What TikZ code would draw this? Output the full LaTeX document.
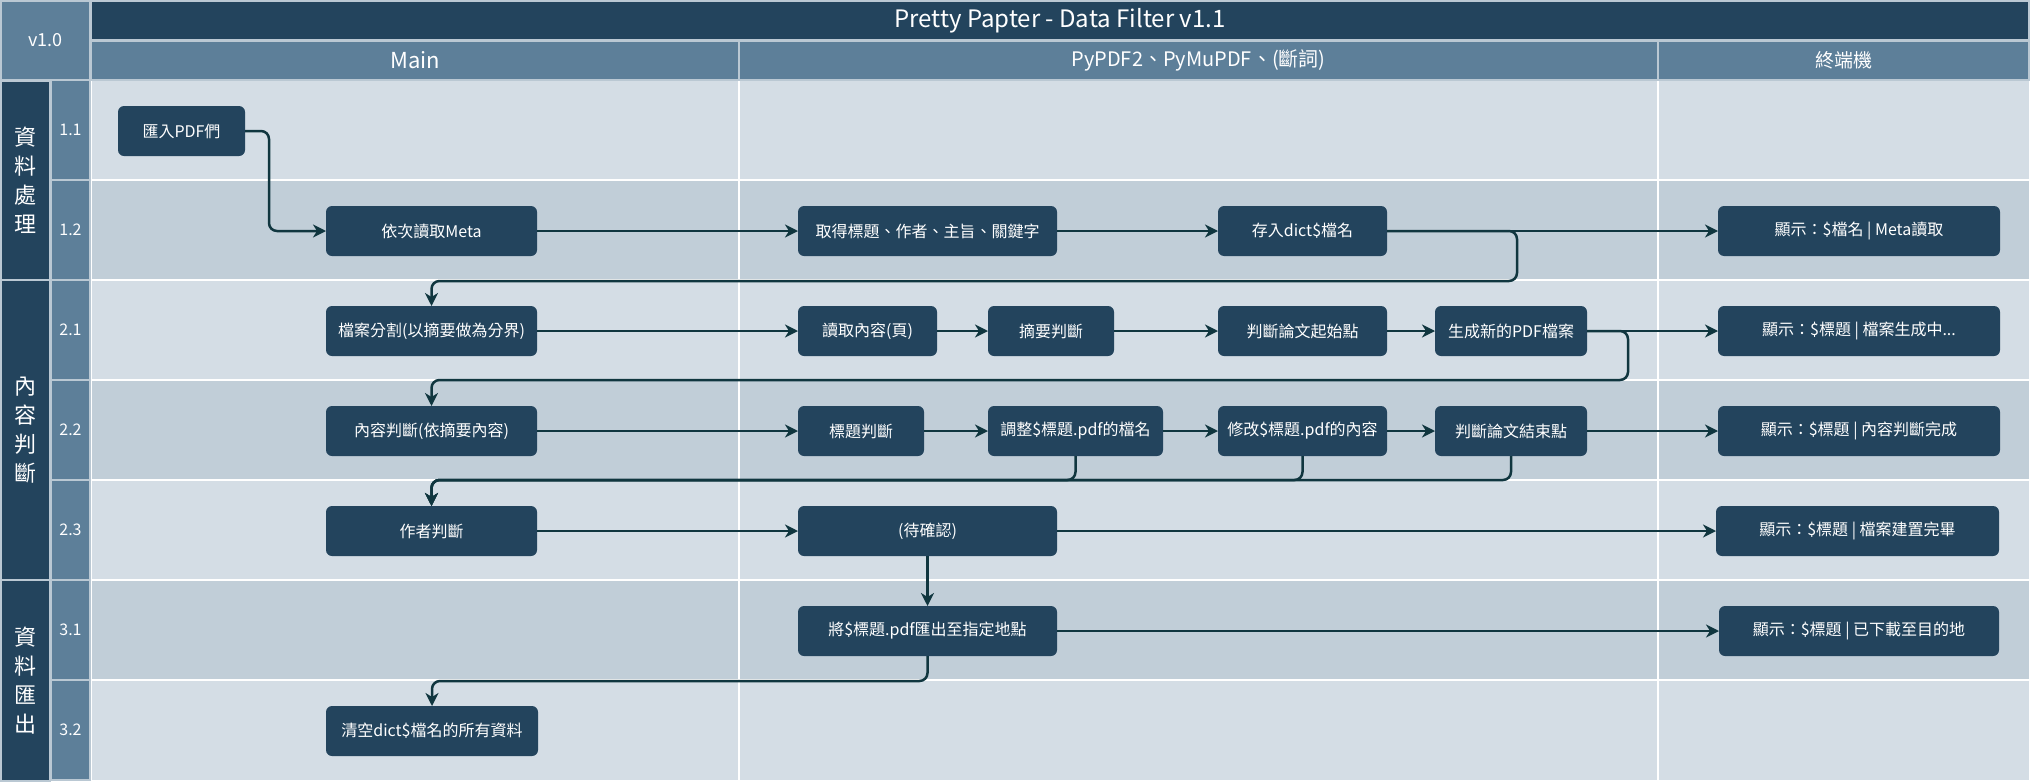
\documentclass[tikz,border=0pt]{standalone}
\usepackage{fontspec}
\setmainfont{Noto Sans CJK TC}
\usetikzlibrary{arrows.meta}
\definecolor{hdr}{HTML}{23445D}
\definecolor{subc}{HTML}{5D7F99}
\definecolor{rowA}{HTML}{D4DDE5}
\definecolor{rowB}{HTML}{C1CED8}
\definecolor{edgec}{HTML}{BAC8D3}
\definecolor{connc}{HTML}{10363F}
\tikzset{
  box/.style={rectangle, rounded corners=6pt, fill=hdr, draw=none, minimum height=50pt,
    inner sep=0pt, outer sep=0pt, text=white, font=\fontsize{16}{19}\selectfont},
  flow/.style={draw=connc, line width=2.5pt, rounded corners=8pt,
    -{Stealth[length=13pt,width=13pt,inset=4pt]}},
  cell/.style={draw=edgec, line width=2pt},
  hdrtext/.style={text=white, inner sep=0pt},
}
\begin{document}
\begin{tikzpicture}[x=1pt,y=-1pt]
\useasboundingbox (0,0) rectangle (2033,782);
\fill[white] (0,0) rectangle (2033,782);
% lanes
\foreach \k/\c in {0/rowA,1/rowB,2/rowA,3/rowB,4/rowA,5/rowB,6/rowA}{
  \fill[fill=\c] (91,{80+100*\k}) rectangle (2029,{180+100*\k});
}
\foreach \k in {1,...,6}{
  \draw[white,line width=2pt] (91,{80+100*\k}) -- (2029,{80+100*\k});
}
\draw[white,line width=2pt] (739,80) -- (739,781) (1658,80) -- (1658,781) (91,80) -- (91,781);
% header
\draw[cell, fill=subc] (1,1) rectangle (90,80);
\node[hdrtext, font=\fontsize{18}{20}\selectfont] (ver) at (45.5,40.5) {v1.0};
\draw[cell, fill=hdr] (91,1) rectangle (2029,40);
\node[hdrtext, font=\fontsize{24}{26}\selectfont] (title) at (1060,20.5) {Pretty Papter - Data Filter v1.1};
\draw[cell, fill=subc] (91,41) rectangle (739,80);
\draw[cell, fill=subc] (739,41) rectangle (1658,80);
\draw[cell, fill=subc] (1658,41) rectangle (2029,80);
\node[hdrtext, font=\fontsize{22}{24}\selectfont] (hmain) at (415,60.5) {Main};
\node[hdrtext, font=\fontsize{20}{22}\selectfont] (hpy) at (1198.5,60.5) {PyPDF2、PyMuPDF、(斷詞)};
\node[hdrtext, font=\fontsize{19}{21}\selectfont] (hterm) at (1843.5,60.5) {終端機};
% group column
\draw[cell, fill=hdr] (1,81) rectangle (50,280);
\draw[cell, fill=hdr] (1,280) rectangle (50,580);
\draw[cell, fill=hdr] (1,580) rectangle (50,781);
\node[hdrtext, align=center, font=\fontsize{22}{29}\selectfont] (g1) at (25.5,180.5) {資\\料\\處\\理};
\node[hdrtext, align=center, font=\fontsize{22}{29}\selectfont] (g2) at (25.5,430) {內\\容\\判\\斷};
\node[hdrtext, align=center, font=\fontsize{22}{29}\selectfont] (g3) at (25.5,680.5) {資\\料\\匯\\出};
% sub numbers
\foreach \k/\t in {0/1.1,1/1.2,2/2.1,3/2.2,4/2.3,5/3.1,6/3.2}{
  \draw[cell, fill=subc] (51,{80+100*\k}) rectangle (90,{180+100*\k});
  \node[hdrtext, font=\fontsize{16}{18}\selectfont] (s\k) at (70.5,{130+100*\k}) {\t};
}
% boxes
\node[box, minimum width=127pt] (n11) at (181.5,131) {匯入PDF們};
\node[box, minimum width=211pt] (n12) at (431.5,231) {依次讀取Meta};
\node[box, minimum width=259pt] (n13) at (927.5,231) {取得標題、作者、主旨、關鍵字};
\node[box, minimum width=169pt] (n14) at (1302.5,231) {存入dict\$檔名};
\node[box, minimum width=282pt] (n15) at (1859,231) {顯示：\$檔名 | Meta讀取};
\node[box, minimum width=211pt] (n21) at (431.5,331) {檔案分割(以摘要做為分界)};
\node[box, minimum width=139pt] (n22) at (867.5,331) {讀取內容(頁)};
\node[box, minimum width=126pt] (n23) at (1051,331) {摘要判斷};
\node[box, minimum width=169pt] (n24) at (1302.5,331) {判斷論文起始點};
\node[box, minimum width=152pt] (n25) at (1511,331) {生成新的PDF檔案};
\node[box, minimum width=282pt] (n26) at (1859,331) {顯示：\$標題 | 檔案生成中...};
\node[box, minimum width=211pt] (n31) at (431.5,431) {內容判斷(依摘要內容)};
\node[box, minimum width=126pt] (n32) at (861,431) {標題判斷};
\node[box, minimum width=175pt] (n33) at (1075.5,431) {調整\$標題.pdf的檔名};
\node[box, minimum width=169pt] (n34) at (1302.5,431) {修改\$標題.pdf的內容};
\node[box, minimum width=152pt] (n35) at (1511,431) {判斷論文結束點};
\node[box, minimum width=282pt] (n36) at (1859,431) {顯示：\$標題 | 內容判斷完成};
\node[box, minimum width=211pt] (n41) at (431.5,531) {作者判斷};
\node[box, minimum width=259pt] (n42) at (927.5,531) {(待確認)};
\node[box, minimum width=283pt] (n43) at (1857.5,531) {顯示：\$標題 | 檔案建置完畢};
\node[box, minimum width=259pt] (n51) at (927.5,631) {將\$標題.pdf匯出至指定地點};
\node[box, minimum width=280pt] (n52) at (1859,631) {顯示：\$標題 | 已下載至目的地};
\node[box, minimum width=212pt] (n61) at (432,731) {清空dict\$檔名的所有資料};
% connectors
\draw[flow] (n11.east) -- ++(24,0) |- (n12.west);
\draw[flow] (n12) -- (n13);
\draw[flow] (n13) -- (n14);
\draw[flow] (n14) -- (n15);
\draw[flow] (n14.east) -- ++(130,0) -- ++(0,50) -| (n21.north);
\draw[flow] (n21) -- (n22);
\draw[flow] (n22) -- (n23);
\draw[flow] (n23) -- (n24);
\draw[flow] (n24) -- (n25);
\draw[flow] (n25) -- (n26);
\draw[flow] (n25.east) -- ++(41,0) -- ++(0,49) -| (n31.north);
\draw[flow] (n31) -- (n32);
\draw[flow] (n32) -- (n33);
\draw[flow] (n33) -- (n34);
\draw[flow] (n34) -- (n35);
\draw[flow] (n35) -- (n36);
\draw[flow] (n33.south) -- ++(0,24) -| (n41.north);
\draw[flow] (n34.south) -- ++(0,24) -| (n41.north);
\draw[flow] (n35.south) -- ++(0,24) -| (n41.north);
\draw[flow] (n41) -- (n42);
\draw[flow] (n42) -- (n43);
\draw[flow] (n42) -- (n51);
\draw[flow] (n51) -- (n52);
\draw[flow] (n51.south) -- ++(0,25) -| (n61.north);
\end{tikzpicture}
\end{document}
